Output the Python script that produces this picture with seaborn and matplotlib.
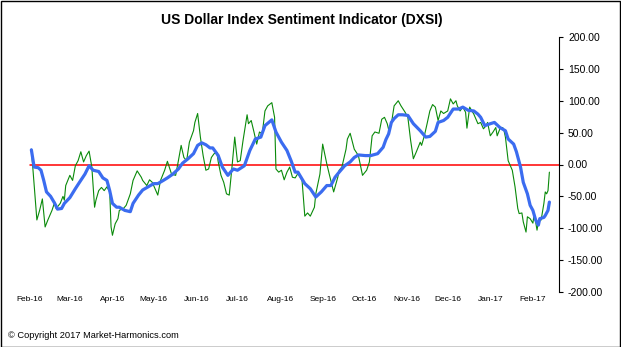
import pandas as pd
import numpy as np
import matplotlib
matplotlib.use("Agg")
import matplotlib.pyplot as plt
import seaborn as sns
from matplotlib.patches import Rectangle

# ---------------- data ----------------
start_date = "2016-02-01"

green_day = [1, 2, 5, 7, 9, 11, 13, 16, 18, 19, 22, 24, 25, 26, 29, 31, 33, 35, 37, 39,
             41, 43, 45, 47, 48, 50, 52, 54, 56, 58, 59, 60, 62, 64, 65, 68, 70, 73, 75, 78,
             81, 82, 85, 87, 89, 91, 93, 95, 98, 100, 103, 106, 108, 110, 112, 114, 116, 119, 120, 122,
             124, 126, 128, 130, 132, 134, 136, 137, 139, 141, 143, 145, 147, 149, 151, 153, 155, 158, 159, 161,
             163, 165, 167, 169, 171, 173, 176, 178, 179, 181, 183, 185, 187, 189, 191, 193, 195, 198, 200, 202,
             204, 207, 208, 211, 213, 216, 218, 221, 224, 225, 227, 230, 231, 233, 236, 239, 242, 245, 247, 249,
             251, 254, 256, 258, 260, 261, 263, 265, 268, 270, 273, 275, 277, 279, 281, 284, 285, 287, 289, 291,
             293, 295, 297, 299, 301, 304, 306, 308, 310, 311, 313, 315, 317, 318, 320, 323, 324, 326, 328, 330,
             332, 333, 335, 337, 339, 340, 342, 344, 345, 346, 348, 349, 351, 353, 355, 356, 358, 359, 361, 362,
             364, 366, 367, 369, 370, 372, 374, 375, 376, 377, 378]
green_val = [24, -4, -87, -72, -54, -98, -87, -72, -59, -69, -61, -50, -56, -33, -17, -25, -2, 6, 20, 4,
             14, 21, -4, -67, -56, -41, -36, -41, -35, -43, -98, -111, -93, -85, -72, -69, -64, -46, -25, -10,
             -20, -25, -33, -24, -28, -38, -48, -25, -9, 5, -15, -17, 6, 30, 11, 6, 35, 53, 66, 80,
             43, 14, -9, -7, 11, 17, 19, 4, -17, -28, -46, -48, -4, 43, 4, 6, 37, 78, 64, 69,
             51, 32, 51, 48, 84, 92, 97, 74, -7, -12, -9, -24, -12, -4, -20, -21, -14, -25, -81, -76,
             -81, -67, -46, -15, 32, 1, -17, -43, -20, -9, -4, 24, 40, 49, 24, 14, -17, -9, 4, 45,
             51, 49, 71, 74, 64, 55, 64, 92, 100, 92, 82, 74, 38, 9, 19, 35, 30, 45, 64, 84,
             94, 90, 69, 84, 80, 84, 103, 95, 100, 92, 84, 90, 82, 57, 90, 79, 74, 64, 66, 56,
             61, 66, 45, 51, 58, 45, 56, 58, 53, 43, 6, 1, -9, -35, -69, -77, -76, -90, -106, -82,
             -85, -92, -77, -103, -90, -87, -61, -43, -46, -41, -12]

blue_day = [1, 3, 6, 8, 10, 12, 15, 18, 20, 23, 25, 29, 33, 36, 40, 43, 46, 50, 53, 56,
            58, 60, 63, 65, 69, 73, 75, 79, 82, 86, 90, 93, 97, 100, 104, 108, 111, 115, 119, 122,
            125, 128, 131, 133, 137, 140, 144, 148, 151, 156, 160, 164, 168, 171, 176, 179, 183, 187, 190, 193,
            195, 200, 204, 208, 212, 216, 219, 222, 225, 229, 233, 236, 239, 244, 248, 253, 257, 259, 261, 263,
            265, 268, 271, 275, 279, 284, 288, 291, 295, 297, 301, 304, 308, 312, 315, 319, 323, 326, 328, 331,
            335, 338, 342, 346, 348, 352, 354, 357, 359, 362, 364, 366, 368, 370, 371, 374, 375, 377, 378]
blue_val = [23, -4, -5, -9, -25, -43, -50, -61, -70, -69, -61, -52, -38, -28, -15, -2, -9, -11, -21, -25,
            -41, -61, -67, -67, -72, -74, -61, -48, -40, -35, -30, -30, -25, -21, -15, -7, 2, 9, 17, 30,
            34, 31, 26, 26, 14, -4, -17, -7, -9, -2, 22, 40, 43, 61, 70, 51, 35, 22, 6, -12,
            -12, -30, -38, -51, -43, -33, -33, -20, -12, -2, 4, 11, 15, 14, 14, 17, 27, 39, 48, 66,
            72, 78, 78, 77, 64, 53, 43, 44, 52, 66, 69, 74, 87, 87, 90, 85, 84, 79, 74, 61,
            64, 66, 58, 53, 40, 32, 20, -4, -28, -46, -64, -72, -87, -95, -85, -83, -80, -72, -59]

month_labels = ["Feb-16", "Mar-16", "Apr-16", "May-16", "Jun-16", "Jul-16", "Aug-16",
                "Sep-16", "Oct-16", "Nov-16", "Dec-16", "Jan-17", "Feb-17"]
y_ticks = [200, 150, 100, 50, 0, -50, -100, -150, -200]
zero_level = 0

title = "US Dollar Index Sentiment Indicator (DXSI)"
copyright_text = "\u00a9 Copyright 2017 Market-Harmonics.com"

# ---------------- build frames ----------------
t0 = pd.Timestamp(start_date)
green_df = pd.DataFrame({"date": t0 + pd.to_timedelta(green_day, unit="D"), "value": green_val})
blue_df = pd.DataFrame({"date": t0 + pd.to_timedelta(blue_day, unit="D"), "value": blue_val})
month_dates = pd.date_range(start_date, periods=len(month_labels), freq="MS")

# ---------------- style ----------------
sns.set_style("white")
plt.rcParams["font.family"] = ["Liberation Sans", "DejaVu Sans"]

W, H = 621, 347
fig = plt.figure(figsize=(W / 100, H / 100), dpi=100)
fig.patch.set_facecolor("white")
ax = fig.add_axes([30 / W, 1 - 292 / H, (559 - 30) / W, (292 - 37) / H])
ax.set_facecolor("white")
ax.patch.set_alpha(0)

ax.axhline(zero_level, color="#ff0000", linewidth=1.1, zorder=1)
sns.lineplot(data=green_df, x="date", y="value", ax=ax, color="#0a8a0a",
             linewidth=0.8, zorder=2, estimator=None)
sns.lineplot(data=blue_df, x="date", y="value", ax=ax, color="#3b6cf0",
             linewidth=2.3, zorder=3, estimator=None)

ax.set_ylim(-200, 200)
ax.set_xlim(t0 + pd.Timedelta(days=0.5), t0 + pd.Timedelta(days=385))
ax.set_xlabel("")
ax.set_ylabel("")

ax.yaxis.tick_right()
ax.set_yticks(y_ticks)
ax.set_yticklabels([f"{v:.2f}" for v in y_ticks])
ax.tick_params(axis="y", which="both", direction="out", length=3, width=0.8,
               pad=3.5, labelsize=7.5, colors="black", right=True, left=False)

ax.set_xticks(month_dates)
ax.set_xticklabels(month_labels)
ax.tick_params(axis="x", length=0, pad=3, labelsize=6, colors="black")

for side in ["left", "top", "bottom"]:
    ax.spines[side].set_visible(False)
ax.spines["right"].set_visible(True)
ax.spines["right"].set_color("black")
ax.spines["right"].set_linewidth(0.8)
ax.grid(False)
for line in ax.get_lines():
    line.set_clip_on(False)

fig.text(302 / W, 1 - 20 / H, title, ha="center", va="center",
         fontsize=10, fontweight="bold", color="black")
fig.text(8 / W, 1 - 335 / H, copyright_text, ha="left", va="center",
         fontsize=6.7, color="black")

fig.patches.append(Rectangle((0.5 / W, 0.5 / H), 1 - 1.5 / W, 1 - 1.5 / H,
                             transform=fig.transFigure, fill=False,
                             edgecolor="black", linewidth=1.0))

fig.savefig("out.png", dpi=100)
